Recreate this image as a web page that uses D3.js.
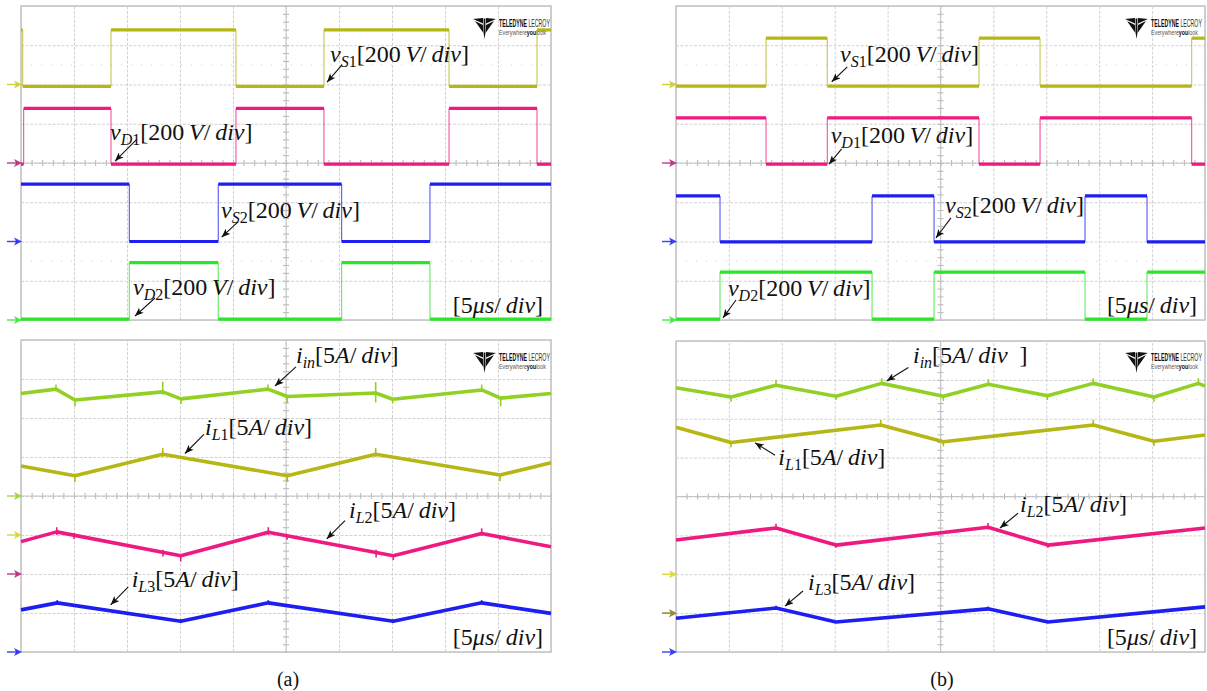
<!DOCTYPE html>
<html>
<head>
<meta charset="utf-8">
<script src="https://cdn.jsdelivr.net/npm/d3@7"></script>
<style>
  html,body{margin:0;padding:0;background:#fff;}
  svg{display:block;}
</style>
</head>
<body>
<svg id="chart" width="1207" height="691"></svg>
<script>
// ---- screen axes: 10 horizontal divisions of 5 us, 8 vertical divisions ----
const timeDomain = [0, 50];          // us
const divDomain = [0, 8];            // divisions above bottom of screen
const timeTicks = d3.range(0, 51, 5);
const divTicks = d3.range(0, 9, 1);

// ---- (a) switch / diode voltages: [low, high] levels in div, edge times in us ----
const aVS1Levels = [5.95, 7.39], aVS1Edges = [0.16, 8.49, 20.28, 28.58, 40.38, 48.68], aVS1StartHigh = true;
const aVD1Levels = [3.97, 5.39], aVD1Edges = [0.25, 8.49, 20.28, 28.58, 40.38, 48.68], aVD1StartHigh = false;
const aVS2Levels = [2.00, 3.46], aVS2Edges = [10.22, 18.61, 30.25, 38.58], aVS2StartHigh = true;
const aVD2Levels = [0.02, 1.46], aVD2Edges = [10.22, 18.61, 30.25, 38.58], aVD2StartHigh = false;

// ---- (b) switch / diode voltages ----
const bVS1Levels = [5.96, 7.18], bVS1Edges = [8.51, 14.30, 28.64, 34.41, 48.74], bVS1StartHigh = false;
const bVD1Levels = [3.97, 5.15], bVD1Edges = [8.51, 14.30, 28.64, 34.41, 48.74], bVD1StartHigh = true;
const bVS2Levels = [1.99, 3.16], bVS2Edges = [4.16, 18.53, 24.39, 38.66, 44.52], bVS2StartHigh = true;
const bVD2Levels = [0.02, 1.22], bVD2Edges = [4.16, 18.53, 24.39, 38.66, 44.52], bVD2StartHigh = false;

// ---- (a) currents: [t (us), div] vertices, spikes: [t, top, bottom] ----
const aIin = [[0,6.63],[3.30,6.74],[5.09,6.46],[13.37,6.67],[15.09,6.49],[23.30,6.74],[25.12,6.55],[33.46,6.64],[35.07,6.48],[43.46,6.72],[45.25,6.51],[50,6.63]];
const aIinSpikes = [[3.30,6.86,6.70],[5.09,6.48,6.30],[13.37,6.93,6.60],[15.09,6.50,6.36],[23.30,6.86,6.70],[25.12,6.56,6.38],[33.46,6.92,6.40],[35.07,6.50,6.38],[43.46,6.86,6.68],[45.25,6.52,6.30]];
const aIL1 = [[0,4.77],[5.09,4.52],[13.37,5.07],[25.12,4.52],[33.46,5.07],[45.19,4.54],[50,4.85]];
const aIL1Spikes = [[5.09,4.54,4.36],[13.37,5.23,5.00],[25.12,4.54,4.36],[33.46,5.23,5.00],[45.19,4.56,4.38]];
const aIL2 = [[0,2.83],[3.37,3.08],[15.07,2.47],[23.33,3.07],[35.12,2.47],[43.46,3.04],[50,2.70]];
const aIL2Spikes = [[3.37,3.20,3.00],[5.00,3.05,2.90],[13.40,2.62,2.45],[15.07,2.50,2.32],[23.33,3.20,3.00],[25.10,3.00,2.88],[33.50,2.62,2.42],[35.12,2.50,2.36],[43.46,3.17,2.98],[45.20,3.00,2.88]];
const aIL3 = [[0,1.08],[3.42,1.26],[15.07,0.79],[23.33,1.26],[35.12,0.79],[43.46,1.26],[50,0.99]];
const aIL3Spikes = [[3.42,1.33,1.22],[15.07,0.84,0.74],[23.33,1.33,1.22],[35.12,0.84,0.74],[43.46,1.33,1.22]];

// ---- (b) currents ----
const bIin = [[0,6.80],[5.20,6.56],[9.45,6.86],[15.12,6.58],[19.44,6.91],[25.27,6.58],[29.52,6.89],[35.10,6.59],[39.44,6.91],[45.18,6.56],[49.37,6.91],[50,6.84]];
const bIinSpikes = [[5.20,6.58,6.44],[9.45,7.00,6.82],[15.12,6.60,6.48],[19.44,7.04,6.86],[25.27,6.60,6.46],[29.52,7.02,6.84],[35.10,6.60,6.48],[39.44,7.04,6.86],[45.18,6.58,6.44],[49.37,7.04,6.86]];
const bIL1 = [[0,5.78],[5.20,5.39],[19.35,5.84],[25.27,5.41],[39.44,5.84],[45.18,5.42],[50,5.58]];
const bIL1Spikes = [[5.20,5.42,5.27],[19.35,5.97,5.80],[25.27,5.44,5.29],[39.44,5.97,5.80],[45.18,5.44,5.30]];
const bIL2 = [[0,2.88],[9.45,3.19],[15.12,2.75],[29.49,3.21],[35.16,2.75],[50,3.19]];
const bIL2Spikes = [[9.45,3.30,3.14],[15.12,2.78,2.68],[29.49,3.32,3.16],[35.16,2.78,2.68]];
const bIL3 = [[0,0.87],[9.45,1.13],[15.12,0.77],[29.49,1.11],[35.16,0.77],[50,1.16]];
const bIL3Spikes = [[9.45,1.19,1.09],[29.49,1.17,1.07]];

// ---- channel ground references (div) ----
const aTopGrounds = [6, 4, 2, 0];
const bTopGrounds = [6, 4, 2, 0];
const aBotGrounds = [4, 3, 2, 0];
const bBotGrounds = [2, 1, 1, 0];

// ---- annotation texts and anchors (t, div) ----
const voltUnit = [['[200','n'],['\u2009V','i'],['/','n'],['\u2009div','i'],[']','n']];
const ampUnit  = [['[5','n'],['A','i'],['/','n'],['\u2009div','i'],[']','n']];
const ampUnitB = [['[5','n'],['A','i'],['/','n'],['\u2009div','i'],['\u2002]','n']];
const timeUnit = [['[5','n'],['\u03bcs','i'],['/','n'],['\u2009div','i'],[']','n']];

const aTopLabels = [
  {sym:'v', sub:[['S','i'],['1','n']], unit:voltUnit, at:[29.15,6.57], tail:[30.28,6.50], head:[28.87,6.06]},
  {sym:'v', sub:[['D','i'],['1','n']], unit:voltUnit, at:[8.40,4.59], tail:[10.92,4.60], head:[8.87,4.05]},
  {sym:'v', sub:[['S','i'],['2','n']], unit:voltUnit, at:[18.87,2.60], tail:[20.47,2.50], head:[18.93,2.11]},
  {sym:'v', sub:[['D','i'],['2','n']], unit:voltUnit, at:[10.57,0.64], tail:[12.64,0.56], head:[10.75,0.10]}
];
const bTopLabels = [
  {sym:'v', sub:[['S','i'],['1','n']], unit:voltUnit, at:[15.50,6.57], tail:[16.19,6.45], head:[14.72,6.07]},
  {sym:'v', sub:[['D','i'],['1','n']], unit:voltUnit, at:[14.62,4.50], tail:[15.66,4.36], head:[14.46,3.97]},
  {sym:'v', sub:[['S','i'],['2','n']], unit:voltUnit, at:[25.43,2.73], tail:[25.99,2.60], head:[24.57,2.09]},
  {sym:'v', sub:[['D','i'],['2','n']], unit:voltUnit, at:[4.91,0.61], tail:[5.67,0.51], head:[4.44,0.05]}
];
const aBotLabels = [
  {sym:'i', sub:[['in','i']], unit:ampUnit, at:[25.94,7.41], tail:[25.94,7.31], head:[23.96,6.82]},
  {sym:'i', sub:[['L','i'],['1','n']], unit:ampUnit, at:[17.36,5.56], tail:[17.26,5.58], head:[15.47,5.09]},
  {sym:'i', sub:[['L','i'],['2','n']], unit:ampUnit, at:[30.94,3.43], tail:[30.57,3.37], head:[28.84,2.90]},
  {sym:'i', sub:[['L','i'],['3','n']], unit:ampUnit, at:[10.44,1.67], tail:[10.12,1.67], head:[8.46,1.21]}
];
const bBotLabels = [
  {sym:'i', sub:[['in','i']], unit:ampUnitB, at:[22.40,7.43], tail:[21.96,7.32], head:[19.91,6.97]},
  {sym:'i', sub:[['L','i'],['1','n']], unit:ampUnit, at:[9.67,4.81], tail:[9.36,5.06], head:[7.47,5.38]},
  {sym:'i', sub:[['L','i'],['2','n']], unit:ampUnit, at:[32.51,3.60], tail:[32.33,3.57], head:[30.62,3.19]},
  {sym:'i', sub:[['L','i'],['3','n']], unit:ampUnit, at:[12.48,1.59], tail:[12.00,1.57], head:[10.30,1.18]}
];
const timebaseAt = [49.25, 0.18];
const captions = ['(a)', '(b)'];

// ---- colours ----
const OLIVE = '#b6b616', MAGENTA = '#ef1a80', BLUE = '#1e1ef0', GREEN = '#2ae62a', LIME = '#92d024';

// ---- layout ----
const svg = d3.select('#chart');
const panels = {
  aTop: {x0: 21,  x1: 551,  yt: 6,   yb: 320},
  bTop: {x0: 676, x1: 1205, yt: 6,   yb: 320},
  aBot: {x0: 21,  x1: 551,  yt: 340, yb: 652},
  bBot: {x0: 676, x1: 1205, yt: 341, yb: 652}
};
const SERIF = "'Liberation Serif','DejaVu Serif',serif";
const SANS = "'Liberation Sans','DejaVu Sans',sans-serif";

const defs = svg.append('defs');
defs.append('marker').attr('id','ah').attr('viewBox','0 0 10 8')
  .attr('refX',10).attr('refY',4).attr('markerWidth',9).attr('markerHeight',7)
  .attr('markerUnits','userSpaceOnUse').attr('orient','auto')
  .append('path').attr('d','M0,0 L10,4 L0,8 L2.5,4 Z').attr('fill','#111');

function scalesFor(p) {
  return {
    x: d3.scaleLinear().domain(timeDomain).range([p.x0, p.x1]),
    y: d3.scaleLinear().domain(divDomain).range([p.yb, p.yt])
  };
}

function drawScreen(g, s, dottedRows) {
  // division grid
  const gx = g.append('g').attr('transform', `translate(0,${s.y(0)})`)
    .call(d3.axisBottom(s.x).tickValues(timeTicks).tickSize(-(s.y(0) - s.y(8))).tickFormat(''));
  const gy = g.append('g').attr('transform', `translate(${s.x(0)},0)`)
    .call(d3.axisLeft(s.y).tickValues(divTicks).tickSize(-(s.x(50) - s.x(0))).tickFormat(''));
  [gx, gy].forEach(a => {
    a.select('.domain').remove();
    a.selectAll('.tick line').attr('stroke', '#d2d2d2').attr('stroke-width', 1).attr('stroke-dasharray', '3 1.5');
  });
  // faint dotted half-division rows
  g.selectAll('line.dot').data(dottedRows).join('line')
    .attr('x1', s.x(0)).attr('x2', s.x(50)).attr('y1', d => s.y(d)).attr('y2', d => s.y(d))
    .attr('stroke', '#cfcfcf').attr('stroke-width', 1).attr('stroke-dasharray', '1 9');
  // centre cross with minor ticks
  const cx = g.append('g').attr('transform', `translate(0,${s.y(4) - 3})`)
    .call(d3.axisBottom(s.x).tickValues(d3.range(0, 50.01, 1)).tickSize(6).tickFormat(''));
  const cy = g.append('g').attr('transform', `translate(${s.x(25) + 3},0)`)
    .call(d3.axisLeft(s.y).tickValues(d3.range(0, 8.01, 0.2)).tickSize(6).tickFormat(''));
  [cx, cy].forEach(a => {
    a.select('.domain').remove();
    a.selectAll('.tick line').attr('stroke', '#b4b4b4').attr('stroke-width', 1);
  });
  g.append('line').attr('x1', s.x(0)).attr('x2', s.x(50)).attr('y1', s.y(4)).attr('y2', s.y(4))
    .attr('stroke', '#c4c4c4').attr('stroke-width', 1);
  g.append('line').attr('x1', s.x(25)).attr('x2', s.x(25)).attr('y1', s.y(0)).attr('y2', s.y(8))
    .attr('stroke', '#c4c4c4').attr('stroke-width', 1);
  // screen frame
  g.append('rect').attr('x', s.x(0)).attr('y', s.y(8))
    .attr('width', s.x(50) - s.x(0)).attr('height', s.y(0) - s.y(8))
    .attr('fill', 'none').attr('stroke', '#c6c6c6').attr('stroke-width', 1.6);
}

function drawGroundMarkers(g, s, grounds, colors) {
  grounds.forEach((v, i) => {
    const y = s.y(v), x = s.x(0);
    g.append('line').attr('x1', x - 14).attr('x2', x - 4).attr('y1', y).attr('y2', y)
      .attr('stroke', colors[i]).attr('stroke-width', 1.4).attr('opacity', 0.85);
    g.append('path').attr('d', `M${x - 7},${y - 4} L${x + 1},${y} L${x - 7},${y + 4} L${x - 5},${y} Z`)
      .attr('fill', colors[i]).attr('opacity', 0.85);
  });
}

function drawSquare(g, s, levels, startHigh, edges, color) {
  const ts = [timeDomain[0], ...edges, timeDomain[1]];
  const segs = [];
  let high = startHigh;
  for (let i = 0; i < ts.length - 1; i++) {
    segs.push({t0: ts[i], t1: ts[i + 1], v: high ? levels[1] : levels[0]});
    high = !high;
  }
  g.append('g').selectAll('line').data(edges).join('line')
    .attr('x1', d => s.x(d)).attr('x2', d => s.x(d))
    .attr('y1', s.y(levels[0])).attr('y2', s.y(levels[1]))
    .attr('stroke', color).attr('stroke-width', 1.1).attr('opacity', 0.75);
  g.append('g').selectAll('line').data(segs).join('line')
    .attr('x1', d => s.x(d.t0)).attr('x2', d => s.x(d.t1))
    .attr('y1', d => s.y(d.v)).attr('y2', d => s.y(d.v))
    .attr('stroke', color).attr('stroke-width', 3.2);
}

function drawCurrent(g, s, pts, spikes, color) {
  const line = d3.line().x(d => s.x(d[0])).y(d => s.y(d[1]));
  g.append('path').datum(pts).attr('d', line)
    .attr('fill', 'none').attr('stroke', color).attr('stroke-width', 3.6).attr('stroke-linejoin', 'round');
  g.append('g').selectAll('line').data(spikes).join('line')
    .attr('x1', d => s.x(d[0])).attr('x2', d => s.x(d[0]))
    .attr('y1', d => s.y(d[1])).attr('y2', d => s.y(d[2]))
    .attr('stroke', color).attr('stroke-width', 1.6);
}

function mathText(g, x, y, parts, anchor) {
  const t = g.append('text').attr('x', x).attr('y', y)
    .attr('font-family', SERIF).attr('font-size', 24).attr('fill', '#111')
    .attr('text-anchor', anchor || 'start');
  parts.forEach(p => {
    const ts = t.append('tspan').text(p.text)
      .attr('font-style', p.style === 'i' ? 'italic' : 'normal');
    if (p.size) ts.attr('font-size', p.size);
    if (p.dy) ts.attr('dy', p.dy);
  });
  return t;
}

function drawLabels(g, s, labels) {
  labels.forEach(L => {
    const parts = [{text: L.sym, style: 'i'}];
    L.sub.forEach((q, i) => parts.push({text: q[0], style: q[1], size: 16, dy: i === 0 ? 5 : 0}));
    L.unit.forEach((q, i) => parts.push({text: q[0], style: q[1], dy: i === 0 ? -5 : 0}));
    mathText(g, s.x(L.at[0]), s.y(L.at[1]), parts);
    g.append('line')
      .attr('x1', s.x(L.tail[0])).attr('y1', s.y(L.tail[1]))
      .attr('x2', s.x(L.head[0])).attr('y2', s.y(L.head[1]))
      .attr('stroke', '#111').attr('stroke-width', 1.1).attr('marker-end', 'url(#ah)');
  });
  mathText(g, s.x(timebaseAt[0]), s.y(timebaseAt[1]),
    timeUnit.map(q => ({text: q[0], style: q[1]})), 'end');
}

// condensed wordmark: a text squeezed horizontally to a given width
function condensedText(g, x, y, width, size, build) {
  const wrap = g.append('g');
  const t = wrap.append('text').attr('x', 0).attr('y', 0)
    .attr('font-family', SANS).attr('font-size', size);
  build(t);
  const w = t.node().getComputedTextLength() || width;
  wrap.attr('transform', `translate(${x},${y}) scale(${width / w},1)`);
}

function drawLogo(g, xr, yt) {
  const sx = xr - 78, sy = yt;
  const lg = g.append('g').attr('fill', '#111');
  lg.append('path').attr('d', `M${sx},${sy + 1} L${sx + 10},${sy} L${sx + 10},${sy + 5.5} Z`);
  lg.append('path').attr('d', `M${sx + 23},${sy + 1} L${sx + 13},${sy} L${sx + 13},${sy + 5.5} Z`);
  lg.append('path').attr('d', `M${sx + 2},${sy + 3} L${sx + 10},${sy + 7} L${sx + 10.4},${sy + 15} Z`);
  lg.append('path').attr('d', `M${sx + 21},${sy + 3} L${sx + 13},${sy + 7} L${sx + 12.6},${sy + 15} Z`);
  lg.append('path').attr('d', `M${sx + 10.6},${sy + 0.5} L${sx + 12.4},${sy + 0.5} L${sx + 12.4},${sy + 15} L${sx + 11.5},${sy + 21} L${sx + 10.6},${sy + 15} Z`);
  condensedText(g, xr - 52, yt + 8.5, 51, 10, t => {
    t.append('tspan').attr('font-weight', 'bold').attr('fill', '#111').text('TELEDYNE');
    t.append('tspan').attr('font-weight', 'normal').attr('fill', '#333').text(' LECROY');
  });
  condensedText(g, xr - 52, yt + 16.5, 47, 7.5, t => {
    t.append('tspan').attr('fill', '#555').text('Everywhere');
    t.append('tspan').attr('font-weight', 'bold').attr('fill', '#111').text('you');
    t.append('tspan').attr('fill', '#555').text('look');
  });
}

// ---- panel (a), voltages ----
{
  const s = scalesFor(panels.aTop), g = svg.append('g');
  drawScreen(g, s, [6.5, 1.5]);
  drawGroundMarkers(g, s, aTopGrounds, ['#c8c81e', '#b01a70', BLUE, GREEN]);
  drawSquare(g, s, aVS1Levels, aVS1StartHigh, aVS1Edges, OLIVE);
  drawSquare(g, s, aVD1Levels, aVD1StartHigh, aVD1Edges, MAGENTA);
  drawSquare(g, s, aVS2Levels, aVS2StartHigh, aVS2Edges, BLUE);
  drawSquare(g, s, aVD2Levels, aVD2StartHigh, aVD2Edges, GREEN);
  drawLogo(g, panels.aTop.x1, 18);
  drawLabels(g, s, aTopLabels);
}
// ---- panel (b), voltages ----
{
  const s = scalesFor(panels.bTop), g = svg.append('g');
  drawScreen(g, s, [6.5, 1.5]);
  drawGroundMarkers(g, s, bTopGrounds, ['#c8c81e', '#b01a70', BLUE, GREEN]);
  drawSquare(g, s, bVS1Levels, bVS1StartHigh, bVS1Edges, OLIVE);
  drawSquare(g, s, bVD1Levels, bVD1StartHigh, bVD1Edges, MAGENTA);
  drawSquare(g, s, bVS2Levels, bVS2StartHigh, bVS2Edges, BLUE);
  drawSquare(g, s, bVD2Levels, bVD2StartHigh, bVD2Edges, GREEN);
  drawLogo(g, panels.bTop.x1 - 2, 18);
  drawLabels(g, s, bTopLabels);
}
// ---- panel (a), currents ----
{
  const s = scalesFor(panels.aBot), g = svg.append('g');
  drawScreen(g, s, []);
  drawGroundMarkers(g, s, aBotGrounds, [LIME, '#d2d21e', '#b01a70', BLUE]);
  drawCurrent(g, s, aIin, aIinSpikes, LIME);
  drawCurrent(g, s, aIL1, aIL1Spikes, OLIVE);
  drawCurrent(g, s, aIL2, aIL2Spikes, MAGENTA);
  drawCurrent(g, s, aIL3, aIL3Spikes, BLUE);
  drawLogo(g, panels.aBot.x1, 352);
  drawLabels(g, s, aBotLabels);
  svg.append('text').attr('x', 288).attr('y', 686)
    .attr('text-anchor', 'middle').attr('font-family', SERIF).attr('font-size', 20).attr('fill', '#111').text(captions[0]);
}
// ---- panel (b), currents ----
{
  const s = scalesFor(panels.bBot), g = svg.append('g');
  drawScreen(g, s, [6.5]);
  drawGroundMarkers(g, s, bBotGrounds, ['#d2d21e', LIME, '#9a7a40', BLUE]);
  drawCurrent(g, s, bIin, bIinSpikes, LIME);
  drawCurrent(g, s, bIL1, bIL1Spikes, OLIVE);
  drawCurrent(g, s, bIL2, bIL2Spikes, MAGENTA);
  drawCurrent(g, s, bIL3, bIL3Spikes, BLUE);
  drawLogo(g, panels.bBot.x1 - 2, 352);
  drawLabels(g, s, bBotLabels);
  svg.append('text').attr('x', 942).attr('y', 686)
    .attr('text-anchor', 'middle').attr('font-family', SERIF).attr('font-size', 20).attr('fill', '#111').text(captions[1]);
}
</script>
</body>
</html>
